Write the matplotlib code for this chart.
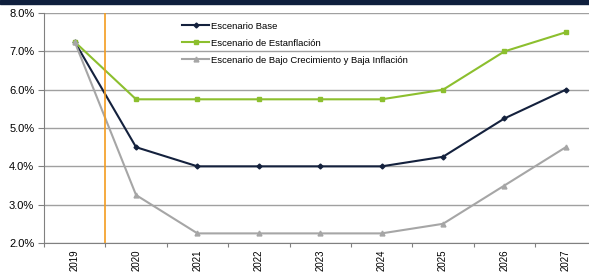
import matplotlib
matplotlib.use('Agg')
from matplotlib import pyplot as plt
from matplotlib.ticker import FuncFormatter

years = ['2019', '2020', '2021', '2022', '2023', '2024', '2025', '2026', '2027']
base = [7.25, 4.5, 4.0, 4.0, 4.0, 4.0, 4.25, 5.25, 6.0]
estanflacion = [7.25, 5.75, 5.75, 5.75, 5.75, 5.75, 6.0, 7.0, 7.5]
bajo = [7.25, 3.25, 2.25, 2.25, 2.25, 2.25, 2.5, 3.5, 4.5]

plt.rcParams['font.family'] = ['Liberation Sans', 'DejaVu Sans']

fig = plt.figure(figsize=(5.89, 2.73), dpi=100)
# franja superior oscura
fig.patches.append(plt.Rectangle((0, 0.986), 1, 0.014, transform=fig.transFigure,
                                 color='#0f1f3d', zorder=0))
ax = fig.add_axes([0.0747, 0.110, 0.938, 0.842])

x = list(range(len(years)))
ax.plot(x, base, color='#14213d', lw=1.5, marker='D', ms=2.5, label='Escenario Base')
ax.plot(x, estanflacion, color='#8cbf2e', lw=1.5, marker='s', ms=3.5,
        label='Escenario de Estanflación')
ax.plot(x, bajo, color='#a6a6a6', lw=1.5, marker='^', ms=3.5,
        label='Escenario de Bajo Crecimiento y Baja Inflación')
ax.axvline(0.5, color='#f39c1f', lw=1.2)

ax.set_xlim(-0.5, 8.5)
ax.set_ylim(2.0, 8.0)
ax.set_yticks([2, 3, 4, 5, 6, 7, 8])
ax.yaxis.set_major_formatter(FuncFormatter(lambda v, p: f'{v:.1f}%'))
ax.grid(axis='y', color='#a0a0a0', lw=1)
ax.set_axisbelow(True)

ax.set_xticks([i - 0.5 for i in range(len(years) + 1)])
ax.set_xticklabels([])
ax.set_xticks(x, minor=True)
ax.set_xticklabels(years, minor=True, rotation=90)
ax.tick_params(axis='x', which='minor', length=0, pad=4.5, labelsize=7)
ax.tick_params(axis='x', which='major', length=3, color='#808080')
ax.tick_params(axis='y', length=4, color='#808080', labelsize=8, pad=3)

for s in ['top', 'right']:
    ax.spines[s].set_visible(False)
for s in ['left', 'bottom']:
    ax.spines[s].set_color('#808080')

ax.legend(loc='upper left', bbox_to_anchor=(0.235, 1.0), frameon=False, fontsize=6.8,
          handlelength=2.8, handletextpad=0.2, labelspacing=0.85)

fig.savefig('out.png', dpi=100)
